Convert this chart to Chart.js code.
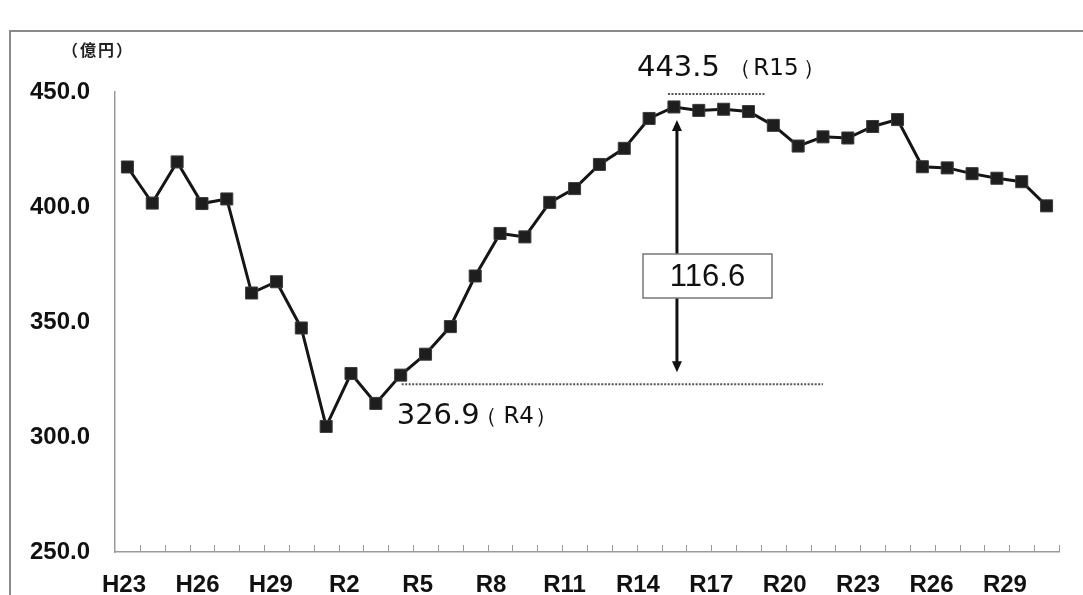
<!DOCTYPE html>
<html>
<head>
<meta charset="utf-8">
<script src="https://cdn.jsdelivr.net/npm/chart.js@4/dist/chart.umd.min.js"></script>
<style>
html,body{margin:0;padding:0;background:#fff;}
canvas{display:block;}
</style>
</head>
<body>
<canvas id="c" width="1083" height="595"></canvas>
<script>
const categories = ['H23','H24','H25','H26','H27','H28','H29','H30',
  'R1','R2','R3','R4','R5','R6','R7','R8','R9','R10','R11','R12','R13','R14','R15',
  'R16','R17','R18','R19','R20','R21','R22','R23','R24','R25','R26','R27','R28','R29','R30'];
const values = [417.4,401.7,419.6,401.5,403.5,362.6,367.5,347.4,
  304.6,327.6,314.6,326.9,336.0,348.0,370.0,388.5,387.0,402.0,408.0,418.5,425.5,438.5,443.5,
  442.0,442.5,441.5,435.5,426.5,430.5,430.0,435.0,438.0,417.5,417.0,414.5,412.5,411.0,400.5];
const xTickLabels = ['H23','H26','H29','R2','R5','R8','R11','R14','R17','R20','R23','R26','R29'];
const yTicks = [250,300,350,400,450];
const unitLabel = '（億円）';
const peakValue = '443.5';
const peakYear = '（R15）';
const lowValue = '326.9';
const lowYear = '（R4）';
const diffLabel = '116.6';
const peakCat = 'R15', peakLineEnd = 'R18';
const lowCat = 'R4', lowLineEnd = 'R21';

const framePlugin = {
  id: 'frame',
  beforeDraw(chart) {
    const ctx = chart.ctx;
    ctx.save();
    ctx.fillStyle = '#ffffff';
    ctx.fillRect(0, 0, chart.width, chart.height);
    ctx.strokeStyle = '#8a8a8a';
    ctx.lineWidth = 2;
    ctx.beginPath();
    ctx.moveTo(10, 595); ctx.lineTo(10, 31); ctx.lineTo(1083, 31);
    ctx.stroke();
    ctx.restore();
  }
};

// draws "（X）" with wide parenthesis spacing like the original
function drawYear(ctx, text, cLeft, cMid, cRight, y) {
  const open = text.charAt(0), close = text.charAt(text.length - 1);
  const mid = text.slice(1, -1);
  ctx.textAlign = 'center';
  ctx.font = '22px "DejaVu Sans"';
  ctx.fillText(open, cLeft, y);
  ctx.fillText(close, cRight, y);
  ctx.font = '23px "DejaVu Sans"';
  ctx.fillText(mid, cMid, y);
  ctx.textAlign = 'left';
}

const annotPlugin = {
  id: 'annot',
  afterDraw(chart) {
    const ctx = chart.ctx;
    const xs = chart.scales.x, ys = chart.scales.y;
    const ca = chart.chartArea;
    ctx.save();
    // x axis tick marks at category boundaries (inward)
    const n = categories.length;
    const step = (ca.right - ca.left) / n;
    ctx.strokeStyle = '#9a9a9a';
    ctx.lineWidth = 1;
    for (let i = 1; i <= n; i++) {
      const x = Math.round(ca.left + i * step) + 0.5;
      ctx.beginPath(); ctx.moveTo(x, ca.bottom); ctx.lineTo(x, ca.bottom - 7); ctx.stroke();
    }
    // unit label
    ctx.fillStyle = '#222';
    ctx.font = 'bold 16px "Noto Sans CJK JP"';
    ctx.letterSpacing = '2px';
    ctx.textAlign = 'left'; ctx.textBaseline = 'middle';
    ctx.fillText(unitLabel, 62, 50);
    ctx.letterSpacing = '0px';

    const xPeak = xs.getPixelForValue(categories.indexOf(peakCat));
    const xPeakEnd = xs.getPixelForValue(categories.indexOf(peakLineEnd));
    const xLow = xs.getPixelForValue(categories.indexOf(lowCat));
    const xLowEnd = xs.getPixelForValue(categories.indexOf(lowLineEnd));
    const yPeak = ys.getPixelForValue(parseFloat(peakValue));
    const yLow = ys.getPixelForValue(parseFloat(lowValue));

    // dotted lines
    ctx.strokeStyle = '#555';
    ctx.lineWidth = 2;
    ctx.setLineDash([2, 1.5]);
    ctx.beginPath(); ctx.moveTo(xPeak - 6, yPeak - 13); ctx.lineTo(xPeakEnd + 16, yPeak - 13); ctx.stroke();
    ctx.beginPath(); ctx.moveTo(xLow + 1, yLow + 9); ctx.lineTo(xLowEnd, yLow + 9); ctx.stroke();
    ctx.setLineDash([]);

    // labels
    ctx.fillStyle = '#111';
    ctx.textBaseline = 'alphabetic';
    ctx.textAlign = 'left';
    ctx.font = '29px "DejaVu Sans", "Noto Sans CJK JP"';
    ctx.fillText(peakValue, xPeak - 37, yPeak - 31);
    drawYear(ctx, peakYear, xPeak + 66, xPeak + 102, xPeak + 140, yPeak - 32);
    ctx.font = '29px "DejaVu Sans", "Noto Sans CJK JP"';
    ctx.fillText(lowValue, xLow - 4, yLow + 49);
    drawYear(ctx, lowYear, xLow + 85, xLow + 118, xLow + 145, yLow + 48);

    // double arrow
    const ax = xPeak + 3;
    const aTop = yPeak + 13, aBot = yLow - 3;
    ctx.strokeStyle = '#111'; ctx.fillStyle = '#111';
    ctx.lineWidth = 3;
    ctx.beginPath(); ctx.moveTo(ax, aTop + 8); ctx.lineTo(ax, aBot - 8); ctx.stroke();
    ctx.beginPath(); ctx.moveTo(ax, aTop); ctx.lineTo(ax - 5, aTop + 11); ctx.lineTo(ax + 5, aTop + 11); ctx.closePath(); ctx.fill();
    ctx.beginPath(); ctx.moveTo(ax, aBot); ctx.lineTo(ax - 5, aBot - 11); ctx.lineTo(ax + 5, aBot - 11); ctx.closePath(); ctx.fill();

    // box with difference
    const bx = 643, by = 254, bw = 129, bh = 44;
    ctx.fillStyle = '#fff';
    ctx.fillRect(bx, by, bw, bh);
    ctx.strokeStyle = '#777'; ctx.lineWidth = 1.5;
    ctx.strokeRect(bx, by, bw, bh);
    ctx.fillStyle = '#111';
    ctx.font = '31px "Liberation Sans", Arial';
    ctx.textAlign = 'center'; ctx.textBaseline = 'middle';
    ctx.fillText(diffLabel, bx + bw / 2, by + bh / 2 + 1);
    ctx.restore();
  }
};

const labelIdx = xTickLabels.map(l => categories.indexOf(l));

new Chart(document.getElementById('c'), {
  type: 'line',
  data: {
    labels: categories,
    datasets: [{
      data: values,
      borderColor: '#151515',
      borderWidth: 3,
      pointStyle: 'rect',
      pointRadius: 8.5,
      pointBackgroundColor: '#1e1e1e',
      pointBorderColor: '#3a3a3a',
      pointBorderWidth: 1,
      tension: 0,
      clip: false
    }]
  },
  options: {
    responsive: false,
    devicePixelRatio: 1,
    animation: false,
    layout: { padding: { left: 0, top: 92, right: 24, bottom: 0 } },
    plugins: { legend: { display: false }, tooltip: { enabled: false } },
    scales: {
      x: {
        type: 'category',
        offset: true,
        weight: 0,
        grid: { display: false, drawTicks: false },
        border: { display: true, color: '#9a9a9a', width: 1.5 },
        ticks: { display: false },
        afterFit(s) { s.height = 0; }
      },
      xl: {
        type: 'linear',
        position: 'bottom',
        weight: 1,
        min: -0.37, max: 38.21,
        afterBuildTicks(s) { s.ticks = labelIdx.map(v => ({ value: v })); },
        grid: { display: false, drawTicks: false },
        border: { display: false },
        ticks: {
          autoSkip: false, maxRotation: 0, minRotation: 0, padding: 19,
          color: '#111',
          font: { family: '"Liberation Sans", Arial', size: 24, weight: 'bold' },
          callback: v => categories[v]
        },
        afterFit(s) { s.height = 43; }
      },
      y: {
        min: 250, max: 450,
        afterBuildTicks(s) { s.ticks = yTicks.map(v => ({ value: v })); },
        grid: { display: false, drawTicks: false },
        border: { display: true, color: '#9a9a9a', width: 1.5 },
        ticks: {
          padding: 25, color: '#111',
          font: { family: '"Liberation Sans", Arial', size: 24, weight: 'bold' },
          callback: v => v.toFixed(1)
        },
        afterFit(s) { s.width = 115; }
      }
    }
  },
  plugins: [framePlugin, annotPlugin]
});
</script>
</body>
</html>
